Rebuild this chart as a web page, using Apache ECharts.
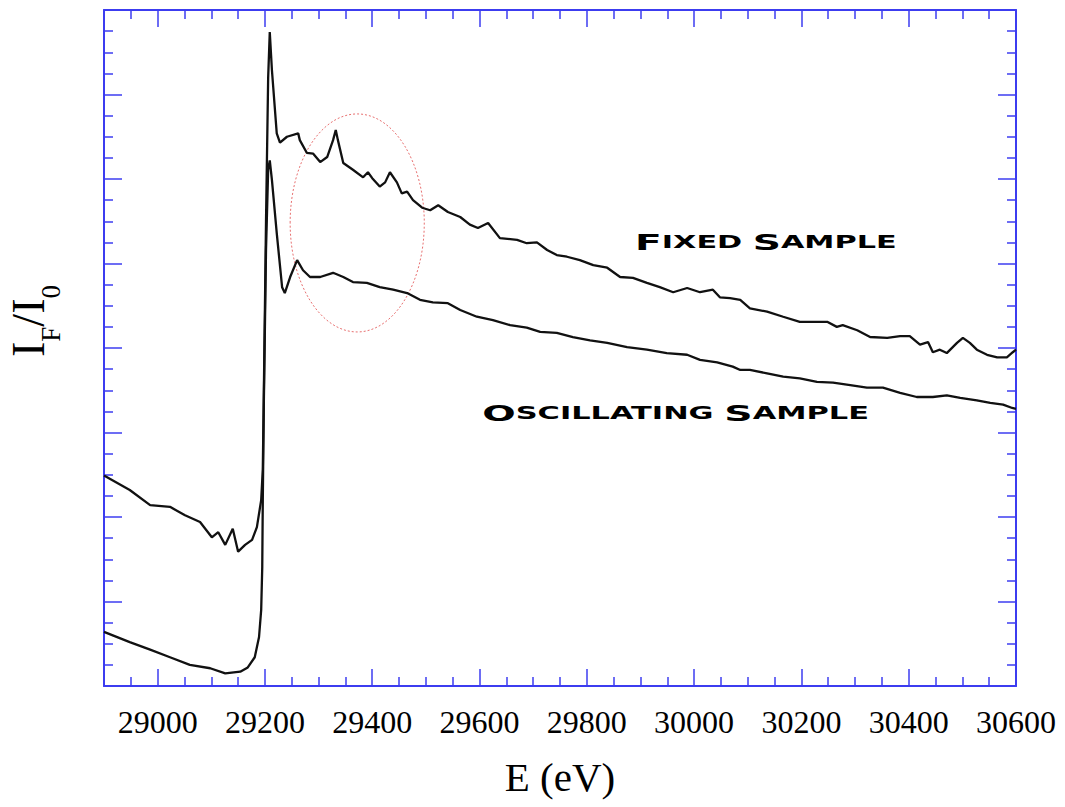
<!DOCTYPE html>
<html>
<head>
<meta charset="utf-8">
<script src="https://cdn.jsdelivr.net/npm/echarts@6/dist/echarts.min.js"></script>
<style>html,body{margin:0;padding:0;background:#fff;}#c{width:1065px;height:807px;}</style>
</head>
<body>
<div id="c"></div>
<script>
// Fixed sample spectrum
const fixedEnergy = [28900, 28948, 28986, 29023, 29051, 29079, 29101, 29113, 29126, 29140, 29150, 29163, 29176, 29185, 29193, 29196, 29198, 29202, 29206, 29209, 29213, 29222, 29228, 29241, 29262, 29265, 29278, 29290, 29303, 29316, 29327, 29332, 29336, 29346, 29364, 29383, 29392, 29400, 29414, 29424, 29433, 29446, 29455, 29465, 29476, 29493, 29508, 29523, 29541, 29564, 29582, 29597, 29616, 29638, 29670, 29688, 29707, 29726, 29744, 29763, 29787, 29812, 29838, 29862, 29886, 29912, 29936, 29961, 29987, 30011, 30035, 30048, 30067, 30086, 30104, 30136, 30166, 30197, 30229, 30248, 30266, 30277, 30304, 30328, 30360, 30384, 30402, 30421, 30436, 30445, 30458, 30471, 30490, 30501, 30514, 30527, 30546, 30565, 30583, 30594, 30600];
const fixedIntensity = [2.49, 2.32, 2.14, 2.12, 2.02, 1.94, 1.76, 1.82, 1.67, 1.86, 1.59, 1.67, 1.73, 1.88, 2.20, 2.56, 3.50, 5.50, 7.20, 7.74, 7.29, 6.54, 6.43, 6.50, 6.54, 6.46, 6.31, 6.30, 6.20, 6.26, 6.46, 6.58, 6.46, 6.19, 6.11, 6.02, 6.08, 6.01, 5.91, 5.96, 6.08, 5.96, 5.83, 5.85, 5.75, 5.66, 5.63, 5.69, 5.61, 5.55, 5.46, 5.42, 5.48, 5.30, 5.28, 5.24, 5.25, 5.16, 5.10, 5.08, 5.04, 4.98, 4.95, 4.84, 4.83, 4.77, 4.72, 4.66, 4.71, 4.66, 4.69, 4.60, 4.59, 4.57, 4.47, 4.43, 4.37, 4.31, 4.31, 4.31, 4.25, 4.27, 4.21, 4.13, 4.12, 4.14, 4.14, 4.04, 4.07, 3.95, 3.98, 3.94, 4.06, 4.12, 4.06, 3.98, 3.92, 3.89, 3.89, 3.95, 3.98];
// Oscillating sample spectrum
const oscEnergy = [28900, 28948, 28986, 29023, 29060, 29098, 29126, 29154, 29168, 29181, 29189, 29193, 29195, 29196, 29198, 29202, 29206, 29209, 29213, 29222, 29232, 29237, 29247, 29260, 29271, 29284, 29303, 29327, 29346, 29364, 29390, 29414, 29439, 29465, 29489, 29513, 29541, 29564, 29595, 29625, 29657, 29688, 29713, 29744, 29774, 29806, 29838, 29875, 29912, 29949, 29987, 30011, 30043, 30072, 30086, 30104, 30136, 30166, 30197, 30229, 30259, 30291, 30322, 30352, 30384, 30415, 30445, 30471, 30496, 30527, 30552, 30576, 30593, 30600];
const oscIntensity = [0.64, 0.52, 0.43, 0.34, 0.25, 0.21, 0.15, 0.17, 0.22, 0.34, 0.58, 0.90, 1.41, 2.20, 3.38, 5.16, 6.11, 6.22, 5.99, 5.36, 4.72, 4.65, 4.84, 5.04, 4.92, 4.84, 4.84, 4.89, 4.84, 4.78, 4.77, 4.72, 4.69, 4.65, 4.57, 4.54, 4.53, 4.45, 4.37, 4.33, 4.27, 4.24, 4.19, 4.18, 4.13, 4.09, 4.06, 4.01, 3.98, 3.94, 3.92, 3.86, 3.83, 3.78, 3.74, 3.74, 3.70, 3.66, 3.64, 3.60, 3.59, 3.56, 3.53, 3.53, 3.47, 3.42, 3.42, 3.44, 3.41, 3.38, 3.35, 3.33, 3.29, 3.28];
const seriesNames = ['Fixed Sample', 'Oscillating Sample'];
const xTitle = 'E (eV)';
const yTitleParts = ['I', 'F', '/I', '0']; // I_F / I_0

const BLUE = '#3c3cf0';
const chart = echarts.init(document.getElementById('c'), null, {renderer: 'svg'});

function xAxisCfg(pos, labels) {
  return {
    type: 'value', position: pos, min: 28900, max: 30600, splitNumber: 8,
    axisLine: {show: true, onZero: false, lineStyle: {color: BLUE, width: 2}},
    axisTick: {show: true, inside: true, length: 17, lineStyle: {color: BLUE, width: 1.5}},
    minorTick: {show: true, splitNumber: 4, length: 9, lineStyle: {color: BLUE, width: 1.5}},
    splitLine: {show: false}, minorSplitLine: {show: false},
    axisLabel: {show: labels, showMinLabel: false, margin: 20, color: '#000', fontFamily: 'Liberation Serif', fontSize: 32,
      formatter: v => String(v)},
    name: labels ? xTitle : '', nameLocation: 'middle', nameGap: 70,
    nameTextStyle: {color: '#000', fontFamily: 'Liberation Serif', fontSize: 41}
  };
}
function yAxisCfg(pos) {
  return {
    type: 'value', position: pos, min: 0, max: 8, interval: 1,
    axisLine: {show: true, onZero: false, lineStyle: {color: BLUE, width: 2}},
    axisTick: {show: true, inside: true, length: 18, lineStyle: {color: BLUE, width: 1.5}},
    minorTick: {show: true, splitNumber: 4, length: 9, lineStyle: {color: BLUE, width: 1.5}},
    splitLine: {show: false}, minorSplitLine: {show: false},
    axisLabel: {show: false}
  };
}

const lineStyle = {color: '#111', width: 2.3};
chart.setOption({
  animation: false,
  backgroundColor: '#fff',
  grid: {left: 104, right: 49, top: 10, bottom: 121, containLabel: false, outerBoundsMode: 'none'},
  xAxis: [xAxisCfg('bottom', true), xAxisCfg('top', false)],
  yAxis: [yAxisCfg('left'), yAxisCfg('right')],
  series: [
    {name: seriesNames[0], type: 'line', showSymbol: false, lineStyle: lineStyle, xAxisIndex: 0, yAxisIndex: 0,
     data: fixedEnergy.map((e, i) => [e, fixedIntensity[i]])},
    {name: seriesNames[1], type: 'line', showSymbol: false, lineStyle: lineStyle, xAxisIndex: 0, yAxisIndex: 0,
     data: oscEnergy.map((e, i) => [e, oscIntensity[i]])}
  ]
});

function px(e, v) { return chart.convertToPixel({xAxisIndex: 0, yAxisIndex: 0}, [e, v]); }
const c0 = px(29372, 5.48), cR = px(29497, 5.48), cT = px(29372, 6.77);
const fixPos = px(29890, 5.25), oscPos = px(29605, 3.23);
function labelText(big1, rest1, big2, rest2) {
  return '{b|' + big1 + '}{s|' + rest1 + ' }{b|' + big2 + '}{s|' + rest2 + '}';
}
const labRich = {
  b: {fontFamily: 'DejaVu Sans', fontWeight: 'bold', fontSize: 22, color: '#000'},
  s: {fontFamily: 'DejaVu Sans', fontWeight: 'bold', fontSize: 17, color: '#000'}
};

// y-axis title I_F/I_0, rotated, placed relative to the left axis
const axisOrigin = px(28900, 4);
const BIG = 46, SMALL = 27;
const titleFont = (size) => ({fontFamily: 'Liberation Serif', fontSize: size, fill: '#000', verticalAlign: 'middle', align: 'left'});
const titleChildren = [];
let u = 0;
yTitleParts.forEach((t, i) => {
  const sub = i % 2 === 1;
  const size = sub ? SMALL : BIG;
  titleChildren.push({type: 'text', x: u, y: sub ? 23 : 0, style: Object.assign({text: t}, titleFont(size))});
  u += echarts.format.getTextRect ? echarts.format.getTextRect(t, size + 'px Liberation Serif').width : t.length * size * 0.4;
});

chart.setOption({
  graphic: [
    {type: 'ellipse', silent: true,
     shape: {cx: c0[0], cy: c0[1], rx: cR[0] - c0[0], ry: c0[1] - cT[1]},
     style: {fill: 'none', stroke: '#e87070', lineWidth: 1, lineDash: [2, 2]}},
    {type: 'text', x: fixPos[0], y: fixPos[1], scaleX: 1.78,
     style: {text: labelText('F', 'IXED', 'S', 'AMPLE'), rich: labRich, verticalAlign: 'middle', align: 'left'}},
    {type: 'text', x: oscPos[0], y: oscPos[1], scaleX: 1.79,
     style: {text: labelText('O', 'SCILLATING', 'S', 'AMPLE'), rich: labRich, verticalAlign: 'middle', align: 'left'}},
    {type: 'group', x: axisOrigin[0] - 76, y: axisOrigin[1] - 27 + u / 2, rotation: Math.PI / 2,
     children: titleChildren}
  ]
});
</script>
</body>
</html>
